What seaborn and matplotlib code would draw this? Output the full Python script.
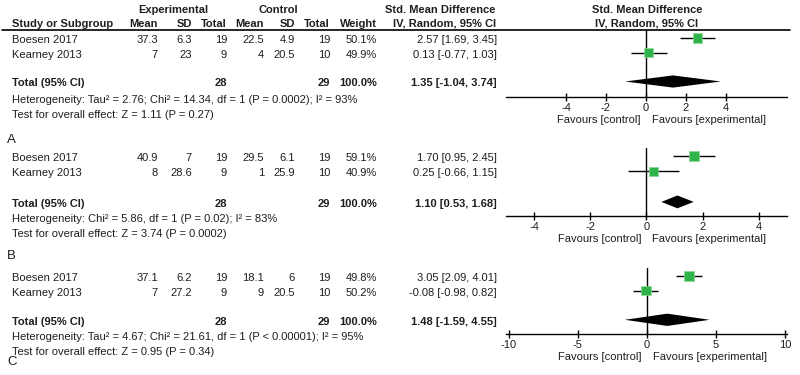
import pandas as pd
import matplotlib
matplotlib.use("Agg")
import matplotlib.pyplot as plt
import matplotlib.transforms as mtransforms
import seaborn as sns

# --- data ---
studies = ["Boesen 2017", "Kearney 2013"]

# panel A
a_exp_mean = [37.3, 7]
a_exp_sd = [6.3, 23]
a_exp_n = [19, 9]
a_ctl_mean = [22.5, 4]
a_ctl_sd = [4.9, 20.5]
a_ctl_n = [19, 10]
a_weight = [50.1, 49.9]
a_smd = [2.57, 0.13]
a_lo = [1.69, -0.77]
a_hi = [3.45, 1.03]
a_total = [1.35, -1.04, 3.74]
a_het = "Heterogeneity: Tau² = 2.76; Chi² = 14.34, df = 1 (P = 0.0002); I² = 93%"
a_test = "Test for overall effect: Z = 1.11 (P = 0.27)"

# panel B
b_exp_mean = [40.9, 8]
b_exp_sd = [7, 28.6]
b_exp_n = [19, 9]
b_ctl_mean = [29.5, 1]
b_ctl_sd = [6.1, 25.9]
b_ctl_n = [19, 10]
b_weight = [59.1, 40.9]
b_smd = [1.70, 0.25]
b_lo = [0.95, -0.66]
b_hi = [2.45, 1.15]
b_total = [1.10, 0.53, 1.68]
b_het = "Heterogeneity: Chi² = 5.86, df = 1 (P = 0.02); I² = 83%"
b_test = "Test for overall effect: Z = 3.74 (P = 0.0002)"

# panel C
c_exp_mean = [37.1, 7]
c_exp_sd = [6.2, 27.2]
c_exp_n = [19, 9]
c_ctl_mean = [18.1, 9]
c_ctl_sd = [6, 20.5]
c_ctl_n = [19, 10]
c_weight = [49.8, 50.2]
c_smd = [3.05, -0.08]
c_lo = [2.09, -0.98]
c_hi = [4.01, 0.82]
c_total = [1.48, -1.59, 4.55]
c_het = "Heterogeneity: Tau² = 4.67; Chi² = 21.61, df = 1 (P < 0.00001); I² = 95%"
c_test = "Test for overall effect: Z = 0.95 (P = 0.34)"

a_ticks = [-4, -2, 0, 2, 4]
b_ticks = [-4, -2, 0, 2, 4]
c_ticks = [-10, -5, 0, 5, 10]

sns.set_style("white")
plt.rcParams["font.family"] = ["Liberation Sans", "DejaVu Sans"]

W, H = 800, 375
fig = plt.figure(figsize=(8, 3.75), dpi=100)
TXT = "#1e1e1e"
GREEN = "#2fb34a"
FS = 8


def put(x, y, s, ha="left", bold=False, size=FS):
    fig.text(x / W, 1 - y / H, s, ha=ha, va="center", fontsize=size,
             color=TXT, fontweight="bold" if bold else "normal")


def fmt(v):
    return f"{v:g}"


# header
put(173, 10, "Experimental", ha="center", bold=True)
put(278, 10, "Control", ha="center", bold=True)
put(440, 10, "Std. Mean Difference", ha="center", bold=True)
put(647, 10, "Std. Mean Difference", ha="center", bold=True)
put(12, 24, "Study or Subgroup", bold=True)
for x, s in [(158, "Mean"), (192, "SD"), (227, "Total"), (264, "Mean"),
             (295, "SD"), (330, "Total"), (377, "Weight")]:
    put(x, 24, s, ha="right", bold=True)
put(445, 24, "IV, Random, 95% CI", ha="center", bold=True)
put(647, 24, "IV, Random, 95% CI", ha="center", bold=True)
fig.add_artist(plt.Line2D([2 / W, 790 / W], [1 - 29.5 / H, 1 - 29.5 / H],
                          color="black", lw=1.2))


def panel(label, label_y, top, y0, step, axis_y, xlim, ticks,
          exp_mean, exp_sd, exp_n, ctl_mean, ctl_sd, ctl_n,
          weight, smd, lo, hi, total, het, test):
    rows = [0, 1]
    trow = 3
    # table text
    for i, r in enumerate(rows):
        ty = y0 + r * step + 2
        put(12, ty, studies[i])
        put(158, ty, fmt(exp_mean[i]), ha="right")
        put(192, ty, fmt(exp_sd[i]), ha="right")
        put(227, ty, fmt(exp_n[i]), ha="right")
        put(264, ty, fmt(ctl_mean[i]), ha="right")
        put(295, ty, fmt(ctl_sd[i]), ha="right")
        put(330, ty, fmt(ctl_n[i]), ha="right")
        put(377, ty, f"{weight[i]:.1f}%", ha="right")
        put(497, ty, f"{smd[i]:.2f} [{lo[i]:.2f}, {hi[i]:.2f}]", ha="right")
    ty = y0 + trow * step + 2
    put(12, ty, "Total (95% CI)", bold=True)
    put(227, ty, fmt(sum(exp_n)), ha="right", bold=True)
    put(330, ty, fmt(sum(ctl_n)), ha="right", bold=True)
    put(377, ty, f"{sum(weight):.1f}%", ha="right", bold=True)
    put(497, ty, f"{total[0]:.2f} [{total[1]:.2f}, {total[2]:.2f}]",
        ha="right", bold=True)
    put(12, axis_y + 3, het)
    put(12, axis_y + 18, test)
    put(7, label_y, label, size=9.5)

    # forest axes
    x0, x1 = 506, 787
    ax = fig.add_axes([x0 / W, 1 - axis_y / H, (x1 - x0) / W, (axis_y - top) / H])
    ax.set_xlim(*xlim)
    ax.set_ylim((axis_y - y0) / step, (top - y0) / step)
    ax.axvline(0, color="black", lw=1.0)
    df = pd.DataFrame({"smd": smd, "row": rows, "weight": weight})
    ax.hlines(df["row"], lo, hi, color="black", lw=1.0, zorder=2)
    sns.scatterplot(data=df, x="smd", y="row", size="weight",
                    sizes=(0, 95), size_norm=(0, 100), marker="s",
                    color=GREEN, edgecolor="#8fd89a", linewidth=0.5,
                    legend=False, zorder=3, ax=ax)
    est, tlo, thi = total
    hh = 0.42
    ax.fill([tlo, est, thi, est], [trow, trow - hh, trow, trow + hh],
            color="black", lw=0)
    for s in ["top", "right", "left"]:
        ax.spines[s].set_visible(False)
    ax.spines["bottom"].set_linewidth(1.0)
    ax.spines["bottom"].set_color("black")
    ax.set_yticks([])
    ax.set_xticks(ticks)
    ax.set_xticklabels([fmt(t) for t in ticks])
    ax.tick_params(axis="x", bottom=True, direction="inout", length=6,
                   width=1.0, pad=1, labelsize=FS, colors="black",
                   labelcolor=TXT)
    ax.set_xlabel("")
    ax.set_ylabel("")
    tr = mtransforms.blended_transform_factory(ax.transData, ax.transAxes)
    ax.annotate("Favours [control]", xy=(0, 0), xycoords=tr,
                xytext=(-5, -23), textcoords="offset pixels",
                ha="right", va="center", fontsize=FS, color=TXT,
                annotation_clip=False)
    ax.annotate("Favours [experimental]", xy=(0, 0), xycoords=tr,
                xytext=(6, -23), textcoords="offset pixels",
                ha="left", va="center", fontsize=FS, color=TXT,
                annotation_clip=False)
    ax.patch.set_alpha(0)


panel("A", 140, 29.5, 38, 14.5, 97, (-7, 7.05), a_ticks,
      a_exp_mean, a_exp_sd, a_exp_n, a_ctl_mean, a_ctl_sd, a_ctl_n,
      a_weight, a_smd, a_lo, a_hi, a_total, a_het, a_test)
panel("B", 256, 148, 156, 15.3, 216, (-5, 5), b_ticks,
      b_exp_mean, b_exp_sd, b_exp_n, b_ctl_mean, b_ctl_sd, b_ctl_n,
      b_weight, b_smd, b_lo, b_hi, b_total, b_het, b_test)
panel("C", 362, 268, 276, 14.6, 334, (-10.2, 10.15), c_ticks,
      c_exp_mean, c_exp_sd, c_exp_n, c_ctl_mean, c_ctl_sd, c_ctl_n,
      c_weight, c_smd, c_lo, c_hi, c_total, c_het, c_test)

fig.savefig("out.png", dpi=100)
